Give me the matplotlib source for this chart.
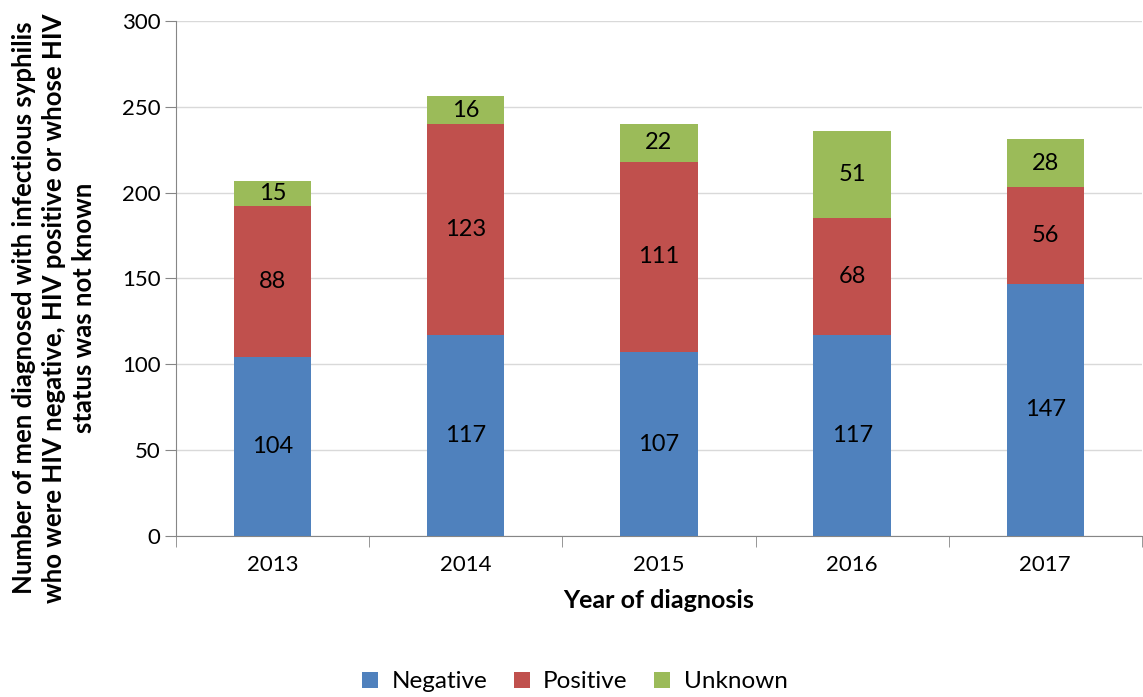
import matplotlib.pyplot as plt
import numpy as np

plt.rcParams['font.family'] = ['Lato', 'DejaVu Sans']

years = ['2013', '2014', '2015', '2016', '2017']
negative = [104, 117, 107, 117, 147]
positive = [88, 123, 111, 68, 56]
unknown = [15, 16, 22, 51, 28]

colors = ['#4F81BD', '#C0504D', '#9BBB59']
names = ['Negative', 'Positive', 'Unknown']

fig = plt.figure(figsize=(11.43, 6.97), dpi=100)
ax = fig.add_axes([0.154, 0.231, 0.845, 0.739])

x = np.arange(len(years))
bottom = np.zeros(len(years))
for vals, c, n in zip([negative, positive, unknown], colors, names):
    bars = ax.bar(x, vals, 0.4, bottom=bottom, color=c, label=n, zorder=3)
    ax.bar_label(bars, labels=[str(v) for v in vals], label_type='center', fontsize=17, color='black')
    bottom += np.array(vals)

ax.set_xlim(-0.5, len(years) - 0.5)
ax.set_ylim(0, 300)
ax.set_yticks(range(0, 301, 50))
ax.set_xticks(x)
ax.set_xticklabels(years)
ax.set_xticks(np.arange(-0.5, len(years), 1.0), minor=True)
ax.tick_params(axis='x', which='major', length=0, labelsize=16, pad=14)
ax.tick_params(axis='x', which='minor', length=8, color='#868686', direction='out')
ax.tick_params(axis='y', length=8, color='#868686', labelsize=16, pad=3)
ax.yaxis.grid(True, color='#D9D9D9', linewidth=1, zorder=0)
for s in ['top', 'right']:
    ax.spines[s].set_visible(False)
for s in ['left', 'bottom']:
    ax.spines[s].set_color('#868686')

ax.set_xlabel('Year of diagnosis', fontsize=18, fontweight='bold', labelpad=10)
fig.text(0.047, 0.558,
         'Number of men diagnosed with infectious syphilis\nwho were HIV negative, HIV positive or whose HIV\nstatus was not known',
         fontsize=18.5, fontweight='bold', rotation=90, ha='center', va='center',
         multialignment='center', linespacing=1.3)

fig.legend(loc='center', bbox_to_anchor=(0.503, 1 - 682 / 697), ncol=3, frameon=False, fontsize=17.5,
           handlelength=0.65, handleheight=0.65, handletextpad=0.55, columnspacing=1.1)

fig.savefig('out.png', dpi=100)
